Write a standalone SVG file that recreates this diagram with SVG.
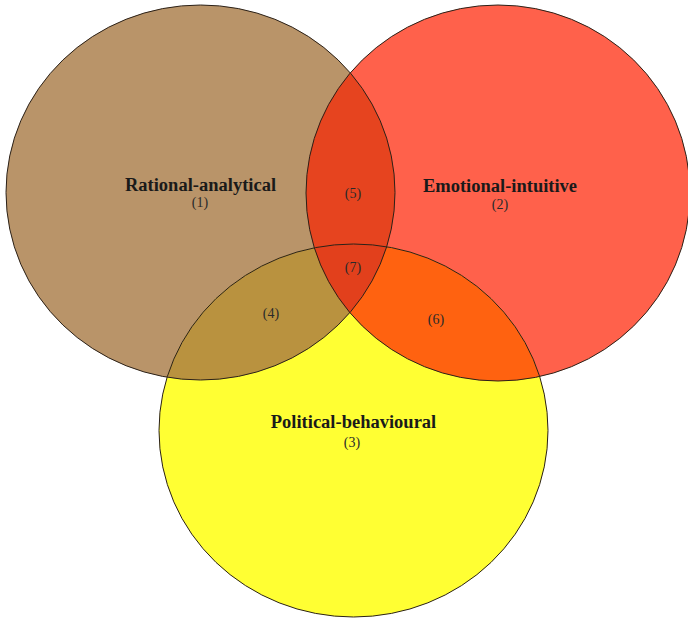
<svg xmlns="http://www.w3.org/2000/svg" width="688" height="622" viewBox="0 0 688 622">
  <style>
    .title { font-family: "Liberation Serif", "Times New Roman", serif; font-weight: bold; font-size: 18.5px; fill: #1a1a1a; text-anchor: middle; }
    .num { font-family: "Liberation Serif", "Times New Roman", serif; font-size: 14px; fill: #2a2a2a; text-anchor: middle; }
    .edge { fill: none; stroke: #2b2118; stroke-width: 1; }
  </style>
  <defs>
    <ellipse id="shapeA" cx="200.5" cy="192.5" rx="194.5" ry="187.5"/>
    <ellipse id="shapeB" cx="498" cy="193" rx="192" ry="188"/>
    <ellipse id="shapeC" cx="353.5" cy="430.5" rx="194.5" ry="186.5"/>
    <clipPath id="clipA"><use href="#shapeA"/></clipPath>
    <clipPath id="clipB"><use href="#shapeB"/></clipPath>
    <clipPath id="clipC"><use href="#shapeC"/></clipPath>
  </defs>

  <rect width="688" height="622" fill="#ffffff"/>

  <!-- base sets -->
  <g id="set-rational"><use href="#shapeA" fill="#B99469"/></g>
  <g id="set-emotional"><use href="#shapeB" fill="#FF614B"/></g>
  <g id="set-political"><use href="#shapeC" fill="#FFFF33"/></g>

  <!-- overlaps -->
  <g id="overlap-4" clip-path="url(#clipA)"><use href="#shapeC" fill="#B9923F"/></g>
  <g id="overlap-5" clip-path="url(#clipA)"><use href="#shapeB" fill="#E6441F"/></g>
  <g id="overlap-6" clip-path="url(#clipB)"><use href="#shapeC" fill="#FF6210"/></g>
  <g id="overlap-7" clip-path="url(#clipA)"><g clip-path="url(#clipB)"><use href="#shapeC" fill="#E2401C"/></g></g>

  <!-- outlines -->
  <g id="outlines">
    <use href="#shapeA" class="edge"/>
    <use href="#shapeB" class="edge"/>
    <use href="#shapeC" class="edge"/>
  </g>

  <!-- labels -->
  <g id="labels">
    <text class="title" x="200.5" y="191">Rational-analytical</text>
    <text class="num" x="200" y="207">(1)</text>
    <text class="title" x="500" y="192">Emotional-intuitive</text>
    <text class="num" x="500" y="209">(2)</text>
    <text class="title" x="353.5" y="428">Political-behavioural</text>
    <text class="num" x="352" y="447">(3)</text>
    <text class="num" x="271" y="318">(4)</text>
    <text class="num" x="353" y="198">(5)</text>
    <text class="num" x="436" y="324">(6)</text>
    <text class="num" x="353" y="272">(7)</text>
  </g>
</svg>
